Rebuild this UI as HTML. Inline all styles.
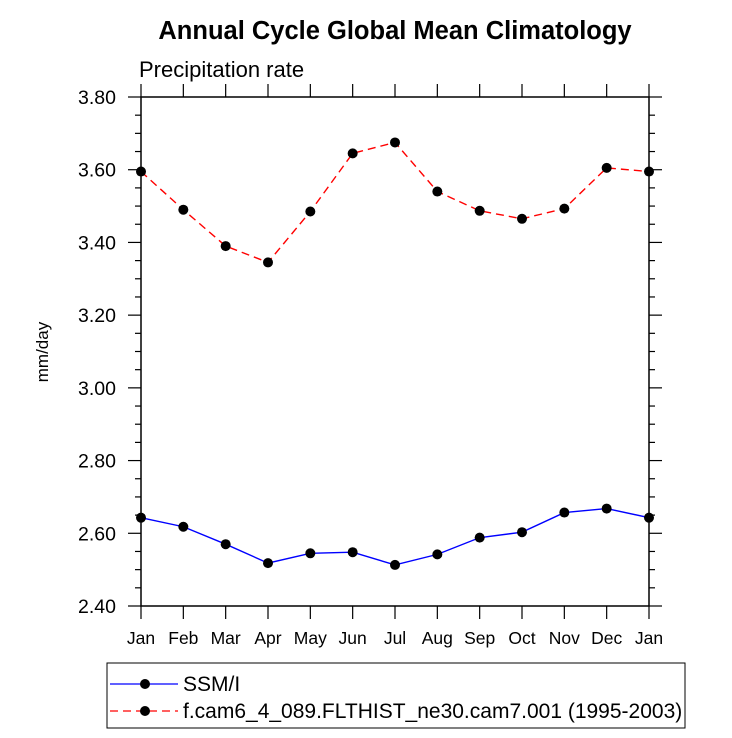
<!DOCTYPE html>
<html><head><meta charset="utf-8"><style>
body{margin:0;background:#fff;}
svg{display:block;font-family:"Liberation Sans",Arial,sans-serif;}
</style></head><body>
<svg width="732" height="738">
<text x="395" y="39" text-anchor="middle" font-size="25.5" font-weight="bold">Annual Cycle Global Mean Climatology</text>
<text x="139" y="77" font-size="22">Precipitation rate</text>
<text transform="translate(48,352) rotate(-90)" text-anchor="middle" font-size="17">mm/day</text>
<g id="axes"></g>
<g id="series"></g>
<rect x="107" y="663" width="578" height="65" fill="none" stroke="#000" stroke-width="1"/>
<g>
<line x1="110" y1="684" x2="178" y2="684" stroke="#0000ff" stroke-width="1.3"/>
<circle cx="145" cy="684" r="5" fill="#000"/>
<text x="183" y="691" font-size="21">SSM/I</text>
</g>
<g>
<line x1="110" y1="711" x2="178" y2="711" stroke="#ff0000" stroke-width="1.3" stroke-dasharray="8,5"/>
<circle cx="145" cy="711" r="5" fill="#000"/>
<text x="183" y="718" font-size="21">f.cam6_4_089.FLTHIST_ne30.cam7.001 (1995-2003)</text>
</g>
</svg>
<script>
const months = ["Jan","Feb","Mar","Apr","May","Jun","Jul","Aug","Sep","Oct","Nov","Dec","Jan"];
const obsValues = [2.643,2.618,2.570,2.518,2.545,2.548,2.513,2.542,2.588,2.603,2.657,2.668,2.643];
const modelValues = [3.595,3.490,3.390,3.345,3.485,3.645,3.675,3.540,3.487,3.465,3.493,3.605,3.595];
const yTicks = [2.40,2.60,2.80,3.00,3.20,3.40,3.60,3.80];
const yTickLabels = ["2.40","2.60","2.80","3.00","3.20","3.40","3.60","3.80"];

const NS="http://www.w3.org/2000/svg";
const L=141,R=649,T=97,B=606,yMin=2.4,yMax=3.8;
const xs=i=>L+(R-L)*i/(months.length-1);
const ys=v=>B-(B-T)*(v-yMin)/(yMax-yMin);
function mk(tag,attrs,parent){const e=document.createElementNS(NS,tag);for(const k in attrs)e.setAttribute(k,attrs[k]);parent.appendChild(e);return e;}
const axes=document.getElementById('axes');
const frame=mk('rect',{x:L,y:T,width:R-L,height:B-T,fill:'none',stroke:'#000','stroke-width':1.5},axes);


for(let v=yMin;v<=yMax+1e-9;v+=0.05){
  const y=ys(v);const major=Math.abs(Math.round(v/0.2)*0.2-v)<1e-6;const len=major?13:6;
  mk('line',{x1:L-len,y1:y,x2:L,y2:y,stroke:'#000','stroke-width':1.2},axes);
  mk('line',{x1:R,y1:y,x2:R+len,y2:y,stroke:'#000','stroke-width':1.2},axes);
}
yTicks.forEach((v,i)=>{
  const t=mk('text',{x:L-25,y:ys(v)+7,'text-anchor':'end','font-size':19.5},axes);
  t.textContent=yTickLabels[i];
  
  
});
months.forEach((m,i)=>{
  const x=xs(i);
  mk('line',{x1:x,y1:B,x2:x,y2:B+13,stroke:'#000','stroke-width':1.2},axes);
  mk('line',{x1:x,y1:T-13,x2:x,y2:T,stroke:'#000','stroke-width':1.2},axes);
  const t=mk('text',{x:x,y:B+38,'text-anchor':'middle','font-size':17.5},axes);
  t.textContent=m;
  
  
});
const series=document.getElementById('series');
function draw(vals,color,dash,name){
  const pts=vals.map((v,i)=>xs(i)+','+ys(v)).join(' ');
  const pl=mk('polyline',{points:pts,fill:'none',stroke:color,'stroke-width':1.4},series);
  if(dash)pl.setAttribute('stroke-dasharray',dash);
  
  
  vals.forEach((v,i)=>{
    const c=mk('circle',{cx:xs(i),cy:ys(v),r:5,fill:'#000'},series);
    
    
  });
}
draw(obsValues,'#0000ff',null,'ssmi');
draw(modelValues,'#ff0000','8,5','model');
</script>
</body></html>
